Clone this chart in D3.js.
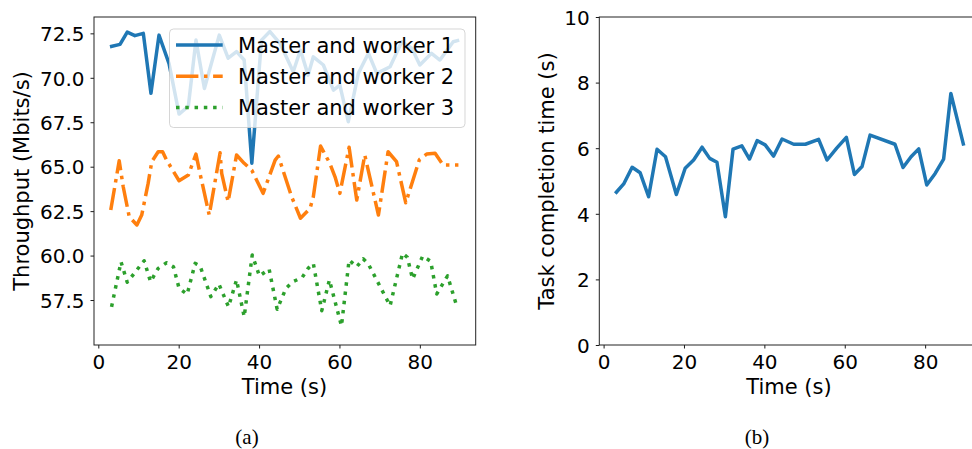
<!DOCTYPE html>
<html>
<head>
<meta charset="utf-8">
<script src="https://cdn.jsdelivr.net/npm/d3@7"></script>
<style>
  html, body { margin: 0; padding: 0; background: #fff; }
  svg { display: block; }
</style>
</head>
<body>
<svg id="fig" width="972" height="449"></svg>
<script>
// ---- data ----------------------------------------------------------------
// (a) throughput per worker link, Mbit/s
const w1Time = [2.9, 5.4, 7.2, 9.1, 11.2, 13.1, 15.1, 17.6, 20.1, 22.4, 24.3, 26.4, 30.1, 32.3, 34.4, 36.3, 38.2, 40.6, 42.7, 45.2, 48.5, 50.3, 52.2, 53.5, 56.0, 58.5, 60.1, 62.2, 64.7, 67.2, 69.3, 72.6, 75.5, 78.0, 80.0, 82.9, 85.0, 88.3, 89.8];
const w1Rate = [71.75, 71.88, 72.57, 72.37, 72.5, 69.13, 72.4, 70.8, 67.96, 68.4, 72.12, 69.4, 72.4, 71.1, 71.47, 71.0, 65.2, 72.12, 72.6, 71.94, 70.34, 71.56, 70.15, 71.18, 70.72, 69.31, 69.59, 67.53, 70.25, 71.38, 70.25, 70.62, 72.03, 71.66, 70.72, 71.38, 71.0, 72.03, 72.12];

const w2Time = [3.1, 5.2, 6.2, 7.7, 9.6, 10.8, 12.4, 13.3, 14.9, 16.0, 17.0, 20.1, 22.4, 24.3, 25.3, 27.6, 30.3, 30.7, 32.3, 34.4, 36.3, 38.2, 41.0, 44.0, 44.8, 48.1, 50.3, 52.7, 53.5, 55.3, 57.6, 58.9, 60.1, 62.4, 64.3, 66.3, 69.7, 72.1, 74.2, 76.5, 79.9, 81.7, 83.8, 85.8, 89.6];
const w2Rate = [62.56, 65.33, 63.87, 62.18, 61.72, 62.28, 64.06, 65.28, 65.84, 65.84, 65.37, 64.21, 64.53, 65.71, 64.63, 62.28, 65.78, 64.63, 63.03, 65.66, 65.19, 64.8, 63.5, 65.37, 65.6, 63.31, 62.1, 62.66, 63.31, 66.16, 65.19, 64.43, 63.5, 66.09, 63.12, 65.66, 62.28, 65.84, 65.28, 62.97, 65.4, 65.71, 65.75, 65.09, 65.09];

const w3Time = [3.3, 5.65, 7.2, 11.4, 13.0, 14.9, 17.0, 18.7, 20.1, 22.1, 24.1, 25.3, 28.0, 30.0, 32.4, 34.4, 36.3, 38.3, 40.1, 42.5, 44.5, 46.7, 48.4, 50.7, 52.2, 53.5, 55.6, 57.5, 60.5, 62.4, 64.3, 65.9, 67.2, 72.6, 75.7, 76.9, 78.2, 80.7, 82.7, 84.2, 86.9, 89.3];
const w3Rate = [57.12, 59.65, 58.5, 59.71, 58.53, 59.28, 59.6, 59.37, 58.16, 57.82, 59.56, 59.43, 57.69, 58.4, 57.12, 58.63, 56.56, 60.03, 58.85, 59.24, 56.98, 58.16, 58.53, 58.76, 59.28, 59.56, 56.9, 58.63, 56.04, 59.75, 59.37, 59.82, 59.52, 57.18, 60.13, 59.9, 58.68, 59.97, 59.68, 57.84, 58.86, 57.07];

// (b) task completion time, s
const taskTime = [2.9, 5.0, 7.1, 9.1, 11.2, 13.3, 15.4, 18.1, 20.3, 22.4, 24.5, 26.4, 28.2, 30.3, 32.2, 34.4, 36.3, 38.2, 40.2, 42.3, 44.4, 47.3, 50.2, 53.5, 55.6, 58.0, 60.4, 62.4, 64.3, 66.3, 72.5, 74.5, 76.5, 78.4, 80.4, 82.5, 84.6, 86.4, 89.6];
const taskDur  = [4.62, 4.91, 5.42, 5.25, 4.52, 5.97, 5.74, 4.59, 5.39, 5.64, 6.03, 5.69, 5.57, 3.91, 5.97, 6.07, 5.67, 6.23, 6.10, 5.76, 6.28, 6.12, 6.12, 6.27, 5.64, 6.0, 6.33, 5.20, 5.44, 6.40, 6.12, 5.41, 5.74, 5.98, 4.88, 5.23, 5.67, 7.67, 6.08];

const seriesNames = ["Master and worker 1", "Master and worker 2", "Master and worker 3"];
const xTicks = [0, 20, 40, 60, 80];
const yTicksA = [57.5, 60.0, 62.5, 65.0, 67.5, 70.0, 72.5];
const yTicksB = [0, 2, 4, 6, 8, 10];

// ---- layout --------------------------------------------------------------
const svg = d3.select("#fig");
const SANS = "DejaVu Sans, sans-serif";
const SERIF = "Liberation Serif, Times New Roman, serif";
const plotTop = 17, plotBottom = 345;
const LW = 3.5;
const colors = ["#1f77b4", "#ff7f0e", "#2ca02c"];
const dashes = [null, [6.4 * LW, 1.6 * LW, 1 * LW, 1.6 * LW].join(","), [1 * LW, 1.65 * LW].join(",")];

const zip = (xs, ys) => xs.map((x, i) => [x, ys[i]]);

function drawAxes(g, x, y, yTicks, yFmt, xLabel, xLabelX, yLabel, yLabelX) {
  const [x0, x1] = x.range();
  const xa = g.append("g").attr("transform", `translate(0,${plotBottom})`)
    .call(d3.axisBottom(x).tickValues(xTicks).tickSize(3.5).tickPadding(5).tickFormat(d3.format("d")));
  const ya = g.append("g").attr("transform", `translate(${x0},0)`)
    .call(d3.axisLeft(y).tickValues(yTicks).tickSize(3.5).tickPadding(6).tickFormat(yFmt));
  [xa, ya].forEach(a => {
    a.select(".domain").remove();
    a.selectAll("line").attr("stroke", "#000").attr("stroke-width", 0.9);
    a.selectAll("text").attr("font-size", 20).style("font-family", SANS).attr("fill", "#000");
  });
  xa.selectAll("text").attr("dy", "0.78em");
  ya.selectAll("text").attr("dy", "0.36em");
  // frame
  g.append("rect").attr("x", x0).attr("y", plotTop).attr("width", x1 - x0).attr("height", plotBottom - plotTop)
    .attr("fill", "none").attr("stroke", "#222").attr("stroke-width", 1);
  g.append("text").attr("x", xLabelX).attr("y", 393.5).style("font-family", SANS)
    .attr("text-anchor", "middle").attr("font-size", 21).text(xLabel);
  g.append("text").attr("transform", `translate(${yLabelX},${(plotTop + plotBottom) / 2}) rotate(-90)`)
    .style("font-family", SANS).attr("text-anchor", "middle").attr("font-size", 21).text(yLabel);
}

// ---- (a) throughput ------------------------------------------------------
const gA = svg.append("g");
const xA = d3.scaleLinear().domain([-1.07, 93.9]).range([94, 475.7]);
const yA = d3.scaleLinear().domain([54.97, 73.42]).range([plotBottom, plotTop]);

gA.append("clipPath").attr("id", "clipA").append("rect")
  .attr("x", 94).attr("y", plotTop).attr("width", 475.7 - 94).attr("height", plotBottom - plotTop);

const lineA = d3.line().x(d => xA(d[0])).y(d => yA(d[1]));
const seriesA = [zip(w1Time, w1Rate), zip(w2Time, w2Rate), zip(w3Time, w3Rate)];
const plotA = gA.append("g").attr("clip-path", "url(#clipA)");
seriesA.forEach((s, i) => {
  plotA.append("path").datum(s).attr("d", lineA)
    .attr("fill", "none").attr("stroke", colors[i]).attr("stroke-width", LW)
    .attr("stroke-linejoin", "round").attr("stroke-linecap", "butt")
    .attr("stroke-dasharray", dashes[i]);
});

drawAxes(gA, xA, yA, yTicksA, d3.format(".1f"), "Time (s)", 284.5, "Throughput (Mbits/s)", 29);

// legend: semi-opaque box drawn over the lines
const leg = gA.append("g");
leg.append("rect").attr("x", 169.5).attr("y", 29).attr("width", 295.5).attr("height", 98.5)
  .attr("rx", 4).attr("fill", "#fff").attr("fill-opacity", 0.8)
  .attr("stroke", "#cccccc").attr("stroke-opacity", 0.8).attr("stroke-width", 1);
seriesNames.forEach((name, i) => {
  const cy = 45 + i * 31.3;
  leg.append("line").attr("x1", 176).attr("x2", 222.7).attr("y1", cy).attr("y2", cy)
    .attr("stroke", colors[i]).attr("stroke-width", LW).attr("stroke-dasharray", dashes[i]);
  leg.append("text").attr("x", 238).attr("y", cy).attr("dy", "0.36em")
    .style("font-family", SANS).attr("font-size", 21).text(name);
});

// ---- (b) task completion time -------------------------------------------
const gB = svg.append("g");
const xB = d3.scaleLinear().domain([-1.07, 93.9]).range([599.3, 981]);
const yB = d3.scaleLinear().domain([0, 10]).range([plotBottom, plotTop]);
const lineB = d3.line().x(d => xB(d[0])).y(d => yB(d[1]));
gB.append("path").datum(zip(taskTime, taskDur)).attr("d", lineB)
  .attr("fill", "none").attr("stroke", colors[0]).attr("stroke-width", LW)
  .attr("stroke-linejoin", "round");
drawAxes(gB, xB, yB, yTicksB, d3.format("d"), "Time (s)", 789, "Task completion time (s)", 553.5);

// ---- captions -------------------------------------------------------------
svg.append("text").attr("x", 247).attr("y", 444).attr("text-anchor", "middle")
  .style("font-family", SERIF).attr("font-size", 21).attr("fill", "#000").text("(a)");
svg.append("text").attr("x", 757).attr("y", 444).attr("text-anchor", "middle")
  .style("font-family", SERIF).attr("font-size", 21).attr("fill", "#000").text("(b)");
</script>
</body>
</html>
